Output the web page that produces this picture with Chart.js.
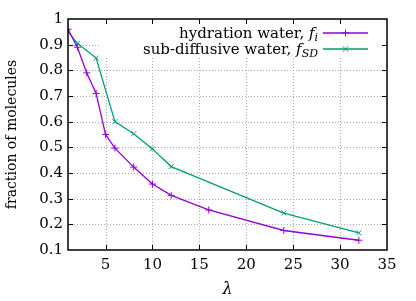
<!DOCTYPE html>
<html>
<head>
<meta charset="utf-8">
<script src="https://cdn.jsdelivr.net/npm/chart.js@4.4.1/dist/chart.umd.min.js"></script>
<style>
  html, body { margin: 0; padding: 0; background: #fff; }
  #wrap { width: 416px; height: 301px; }
</style>
</head>
<body>
<div id="wrap"><canvas id="chart" width="416" height="301"></canvas></div>
<script>
// values
const lambdaI = [1, 2, 3, 4, 5, 6, 8, 10, 12, 16, 24, 32];
const fracI = [0.96, 0.89, 0.79, 0.71, 0.55, 0.497, 0.423, 0.357, 0.313, 0.256, 0.176, 0.138];
const lambdaSD = [1, 2, 4, 6, 8, 10, 12, 24, 32];
const fracSD = [0.951, 0.905, 0.848, 0.60, 0.553, 0.494, 0.425, 0.244, 0.167];
const xTicks = [5, 10, 15, 20, 25, 30, 35];
const yTicks = [0.1, 0.2, 0.3, 0.4, 0.5, 0.6, 0.7, 0.8, 0.9, 1];

const PURPLE = '#9400d3';
const GREEN = '#009e73';
const SERIF = '"DejaVu Serif", serif';

const toPoints = (xs, ys) => xs.map((x, i) => ({ x: x, y: ys[i] }));

// dotted grid, then white key box (gnuplot "key opaque") under the lines
const gridAndKeyBox = {
  id: 'gridAndKeyBox',
  beforeDatasetsDraw(chart) {
    const { ctx, chartArea: a, scales } = chart;
    ctx.save();
    ctx.strokeStyle = '#a8a8a8';
    ctx.lineWidth = 1;
    ctx.setLineDash([1, 2]);
    ctx.beginPath();
    xTicks.forEach(v => {
      const px = Math.round(scales.x.getPixelForValue(v)) + 0.5;
      if (px > a.right - 2) return;
      ctx.moveTo(px, a.top); ctx.lineTo(px, a.bottom);
    });
    yTicks.forEach(v => {
      const py = Math.round(scales.y.getPixelForValue(v)) + 0.5;
      if (py < a.top + 2 || py > a.bottom - 2) return;
      ctx.moveTo(a.left, py); ctx.lineTo(a.right, py);
    });
    ctx.stroke();
    ctx.setLineDash([]);
    ctx.fillStyle = '#fff';
    ctx.fillRect(100, a.top + 1, a.right - 101, 57 - a.top);
    ctx.restore();
  }
};

// border + inward ticks on all four sides, and the legend
const frame = {
  id: 'frame',
  afterDraw(chart) {
    const { ctx, chartArea: a, scales } = chart;
    const len = 5;
    ctx.save();
    ctx.strokeStyle = '#000';
    ctx.lineWidth = 1;
    ctx.beginPath();
    xTicks.forEach(v => {
      const px = Math.round(scales.x.getPixelForValue(v)) + 0.5;
      if (px > a.right - 1) return;
      ctx.moveTo(px, a.bottom); ctx.lineTo(px, a.bottom - len);
      ctx.moveTo(px, a.top); ctx.lineTo(px, a.top + len);
    });
    yTicks.forEach(v => {
      const py = Math.round(scales.y.getPixelForValue(v)) + 0.5;
      if (py < a.top + 1 || py > a.bottom - 1) return;
      ctx.moveTo(a.left, py); ctx.lineTo(a.left + len, py);
      ctx.moveTo(a.right, py); ctx.lineTo(a.right - len, py);
    });
    ctx.stroke();
    ctx.lineWidth = 1.5;
    ctx.strokeRect(a.left, a.top, a.right - a.left, a.bottom - a.top);

    // legend
    const rows = [
      { text: 'hydration water, ', f: 'f', sub: 'i', color: PURPLE, mark: 'plus', y: 33 },
      { text: 'sub-diffusive water, ', f: 'f', sub: 'SD', color: GREEN, mark: 'cross', y: 49 }
    ];
    const textRight = 318;
    ctx.textBaseline = 'alphabetic';
    rows.forEach(r => {
      const base = r.y + 5;
      ctx.font = 'italic 11px ' + SERIF;
      const subW = ctx.measureText(r.sub).width;
      ctx.font = 'italic 15px ' + SERIF;
      const fW = ctx.measureText(r.f).width;
      ctx.font = '15px ' + SERIF;
      const tW = ctx.measureText(r.text).width;
      let x = textRight - subW - fW - tW;
      ctx.fillStyle = '#000';
      ctx.textAlign = 'left';
      ctx.fillText(r.text, x, base); x += tW;
      ctx.font = 'italic 15px ' + SERIF;
      ctx.fillText(r.f, x, base); x += fW;
      ctx.font = 'italic 11px ' + SERIF;
      ctx.fillText(r.sub, x, base + 3);

      ctx.strokeStyle = r.color;
      ctx.lineWidth = 1.5;
      ctx.beginPath();
      ctx.moveTo(323, r.y); ctx.lineTo(368, r.y);
      ctx.stroke();
      ctx.lineWidth = 1;
      ctx.beginPath();
      const mx = 345.5, s = 3.5;
      if (r.mark === 'plus') {
        ctx.moveTo(mx - s, r.y); ctx.lineTo(mx + s, r.y);
        ctx.moveTo(mx, r.y - s); ctx.lineTo(mx, r.y + s);
      } else {
        ctx.moveTo(mx - s * 0.8, r.y - s * 0.8); ctx.lineTo(mx + s * 0.8, r.y + s * 0.8);
        ctx.moveTo(mx - s * 0.8, r.y + s * 0.8); ctx.lineTo(mx + s * 0.8, r.y - s * 0.8);
      }
      ctx.stroke();
    });
    ctx.restore();
  }
};

new Chart(document.getElementById('chart'), {
  type: 'scatter',
  data: {
    datasets: [
      {
        label: 'hydration water, f_i',
        data: toPoints(lambdaI, fracI),
        showLine: true,
        borderColor: PURPLE,
        backgroundColor: PURPLE,
        borderWidth: 1.3,
        pointStyle: 'cross',
        pointRadius: 3.5,
        pointBorderWidth: 1,
        pointHoverRadius: 3.5
      },
      {
        label: 'sub-diffusive water, f_SD',
        data: toPoints(lambdaSD, fracSD),
        showLine: true,
        borderColor: GREEN,
        backgroundColor: GREEN,
        borderWidth: 1.3,
        pointStyle: 'crossRot',
        pointRadius: 3.5,
        pointBorderWidth: 1,
        pointHoverRadius: 3.5
      }
    ]
  },
  options: {
    responsive: false,
    animation: false,
    events: [],
    layout: { padding: { left: 4, right: 29, top: 19, bottom: 0 } },
    plugins: {
      legend: { display: false },
      tooltip: { enabled: false }
    },
    scales: {
      x: {
        type: 'linear',
        min: 1,
        max: 35,
        afterBuildTicks: s => { s.ticks = xTicks.map(v => ({ value: v })); },
        afterFit: s => { s.height = 51; },
        grid: { display: false, drawTicks: false },
        border: { display: false },
        ticks: {
          color: '#000',
          font: { family: SERIF, size: 15 },
          padding: 6,
          maxRotation: 0
        },
        title: {
          display: true,
          text: 'λ',
          color: '#000',
          font: { family: SERIF, size: 16, style: 'italic' },
          padding: { top: 0, bottom: 2 }
        }
      },
      y: {
        type: 'linear',
        min: 0.1,
        max: 1,
        afterBuildTicks: s => { s.ticks = yTicks.map(v => ({ value: v })); },
        afterFit: s => { s.width = 64; },
        grid: { display: false, drawTicks: false },
        border: { display: false },
        ticks: {
          color: '#000',
          font: { family: SERIF, size: 15 },
          padding: 5,
          callback: v => String(+v.toFixed(1))
        },
        title: {
          display: true,
          text: 'fraction of molecules',
          color: '#000',
          font: { family: SERIF, size: 14 },
          padding: { top: 0, bottom: 0 }
        }
      }
    }
  },
  plugins: [gridAndKeyBox, frame]
});
</script>
</body>
</html>
